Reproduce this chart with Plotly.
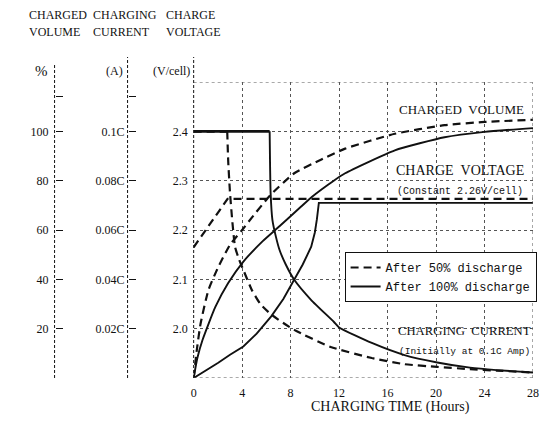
import plotly.graph_objects as go

# ---------------- data ----------------
hour_ticks = [0, 4, 8, 12, 16, 20, 24, 28]
volt_ticks = [2.0, 2.1, 2.2, 2.3, 2.4]
volt_labels = ["2.0", "2.1", "2.2", "2.3", "2.4"]
pct_ticks = [20, 40, 60, 80, 100, 114]
pct_labels = ["20", "40", "60", "80", "100", ""]
amp_ticks = [0, 0.02, 0.04, 0.06, 0.08, 0.1, 0.114]
amp_labels = ["", "0.02C", "0.04C", "0.06C", "0.08C", "0.1C", ""]

# charge voltage (V/cell)
hours_v50 = [0, 2.8, 28]
volt_v50 = [2.165, 2.263, 2.263]
hours_v100 = [0, 1.0, 2.03, 3.0, 4.1, 5.2, 6.4, 7.4, 8.3, 9.0, 9.7, 10.0, 10.17, 10.33, 28]
volt_v100 = [1.9, 1.915, 1.931, 1.947, 1.964, 1.99, 2.025, 2.06, 2.099, 2.13, 2.166, 2.195,
             2.222, 2.255, 2.255]

# charged volume (%)
hours_q50 = [0, 0.25, 0.57, 1.22, 2.03, 3.0, 4.0, 4.8, 6.3, 8.3, 10.5, 12.5, 16.6, 20.7, 24, 28]
vol_q50 = [0, 11, 22, 35.7, 45, 54, 60, 65, 74, 83, 88.5, 93, 99, 102.5, 103.8, 104.7]
hours_q100 = [0, 0.3, 0.73, 1.79, 2.85, 4.07, 5.7, 7.08, 8.87, 9.77, 11.56, 12.5, 16.6, 20.7, 24, 28]
vol_q100 = [0, 8, 15.4, 28.8, 38.5, 47, 55.5, 61.5, 69.5, 73.5, 80, 83, 92.3, 97.6, 99.8, 101.3]

# charging current (C)
hours_i50 = [0, 2.77, 2.85, 3.0, 3.2, 3.42, 3.75, 4.1, 4.8, 5.5, 6.43, 8.3, 11.3, 14.7, 17.4, 20.1, 22.8, 25, 28]
cur_i50 = [0.1, 0.1, 0.088, 0.075, 0.063, 0.053, 0.048, 0.0438, 0.0357, 0.030, 0.0256, 0.0195,
           0.0126, 0.0081, 0.0056, 0.0045, 0.0036, 0.003, 0.0022]
hours_i100 = [0, 6.27, 6.3, 6.35, 6.5, 6.8, 7.08, 7.6, 8.3, 9.7, 11.56, 12.0, 14.7, 17.4, 20.1, 22.8, 25, 28]
cur_i100 = [0.1, 0.1, 0.088, 0.075, 0.064, 0.057, 0.052, 0.046, 0.0398, 0.0316, 0.0228, 0.0205,
            0.0142, 0.0093, 0.0063, 0.0042, 0.0032, 0.0022]

# ---------------- styling ----------------
SERIF = "Liberation Serif"
MONO = "Liberation Mono"
INK = "#111111"
GRID = "#555555"
OFF = 8                      # page body margin of the html page
W, H = 559 - 2 * OFF, 430 - 2 * OFF
ML = 12
PLOT_L, PLOT_R, PLOT_T, PLOT_B = 193, 537, 82, 378   # screen pixels of the plot frame
MR = W - (PLOT_R - OFF)
MT = PLOT_T - OFF
MB = H - (PLOT_B - OFF)
PW, PH = W - ML - MR, H - MT - MB


def px_x(px):
    return (px - OFF - ML) / PW


def px_y(py):
    return (H - MB - (py - OFF)) / PH


DASH = "8px,5px"
fig = go.Figure()


def add(x, y, axis, dashed, legend_name=None, shape="linear", width=None):
    fig.add_trace(go.Scatter(
        x=x, y=y, yaxis=axis, mode="lines",
        line=dict(color=INK, width=width or (2.2 if dashed else 1.9),
                  dash=DASH if dashed else "solid", shape=shape, smoothing=0.5),
        name=legend_name or "", showlegend=legend_name is not None,
        legendgroup="d50" if dashed else "d100", hoverinfo="skip"))


add(hours_v50, volt_v50, "y", True, "After 50% discharge")
add(hours_v100, volt_v100, "y", False, "After 100% discharge")
add(hours_q50, vol_q50, "y2", True, shape="spline")
add(hours_q100, vol_q100, "y2", False, shape="spline")
# current: constant part, then smooth decay
add(hours_i100[:2], cur_i100[:2], "y3", False, width=2.6)
add(hours_i100[1:], cur_i100[1:], "y3", False, shape="spline")
add(hours_i50[:2], cur_i50[:2], "y3", True, width=2.6)
add(hours_i50[1:], cur_i50[1:], "y3", True, shape="spline")

tickfont = dict(family=SERIF, size=12, color=INK)
x0 = px_x(PLOT_L)

shapes = []
# plot border (dotted)
for xa, ya, xb, yb in [(0, 2.5, 28, 2.5), (28, 1.9, 28, 2.5), (0, 1.9, 28, 1.9)]:
    shapes.append(dict(type="line", xref="x", yref="y", x0=xa, y0=ya, x1=xb, y1=yb,
                       line=dict(color=GRID, width=1, dash="dot")))
# dashed vertical axis lines
for ax_x, top in [(x0, px_y(57)), (px_x(126), px_y(57)), (px_x(52), px_y(63))]:
    shapes.append(dict(type="line", xref="paper", yref="paper", x0=ax_x, x1=ax_x, y0=0, y1=top,
                       line=dict(color=INK, width=1, dash="3px,2px")))

annotations = []


def note(text, px, py, size, xanchor="left", family=SERIF):
    annotations.append(dict(
        text=text, showarrow=False, xanchor=xanchor, yanchor="middle",
        xref="paper", yref="paper", x=px_x(px), y=px_y(py),
        font=dict(family=family, size=size, color=INK)))


NB = "\u00a0"
# header
note("CHARGED", 24, 15, 12)
note("VOLUME", 24, 32, 12)
note("CHARGING", 89, 15, 12)
note("CURRENT", 89, 32, 12)
note("CHARGE", 163, 15, 12)
note("VOLTAGE", 163, 32, 12)
# axis units
note("%", 47, 71, 15, xanchor="right")
note("(A)", 123, 71, 12, xanchor="right")
note("(V/cell)", 191, 71, 12, xanchor="right")
# in-plot labels
note("CHARGED " + NB + "VOLUME", 399, 109, 13)
note("CHARGE " + NB + "VOLTAGE", 396, 170, 14)
note("(Constant 2.26V/cell)", 397, 191, 10, family=MONO)
note("CHARGING " + NB + "CURRENT", 398, 331, 12.7)
note("(Initially at 0.1C Amp)", 399, 351, 9.5, family=MONO)
# x title
note("CHARGING TIME (Hours)", 393, 407, 14, xanchor="center")

fig.update_layout(
    width=W, height=H,
    margin=dict(l=ML, r=MR, t=MT, b=MB),
    paper_bgcolor="white", plot_bgcolor="white",
    font=dict(family=SERIF, color=INK),
    xaxis=dict(domain=[x0, 1], range=[0, 28], tickvals=hour_ticks, showgrid=True,
               griddash="dot", gridcolor=GRID, gridwidth=1, zeroline=False, showline=False,
               ticks="", tickfont=tickfont, ticklabelstandoff=6),
    yaxis=dict(range=[1.9, 2.5], tickvals=volt_ticks, ticktext=volt_labels, showgrid=True,
               griddash="dot", gridcolor=GRID, gridwidth=1, zeroline=False, showline=False,
               ticks="", tickfont=tickfont, ticklabelstandoff=5, anchor="x"),
    yaxis2=dict(range=[0, 120], overlaying="y", anchor="free", position=px_x(52), side="left",
                tickvals=pct_ticks, ticktext=pct_labels, ticks="inside", ticklen=7,
                tickcolor=INK, showgrid=False, zeroline=False, showline=False,
                tickfont=tickfont, ticklabelstandoff=6),
    yaxis3=dict(range=[0, 0.12], overlaying="y", anchor="free", position=px_x(126), side="left",
                tickvals=amp_ticks, ticktext=amp_labels, ticks="inside", ticklen=7,
                tickcolor=INK, showgrid=False, zeroline=False, showline=False,
                tickfont=tickfont, ticklabelstandoff=3),
    legend=dict(x=px_x(346), y=px_y(252), xanchor="left", yanchor="top", bgcolor="white",
                bordercolor=INK, borderwidth=1, font=dict(family=MONO, size=12, color=INK),
                tracegroupgap=0, itemwidth=30),
    shapes=shapes,
    annotations=annotations,
    showlegend=True,
)

fig.write_html("out.html")
